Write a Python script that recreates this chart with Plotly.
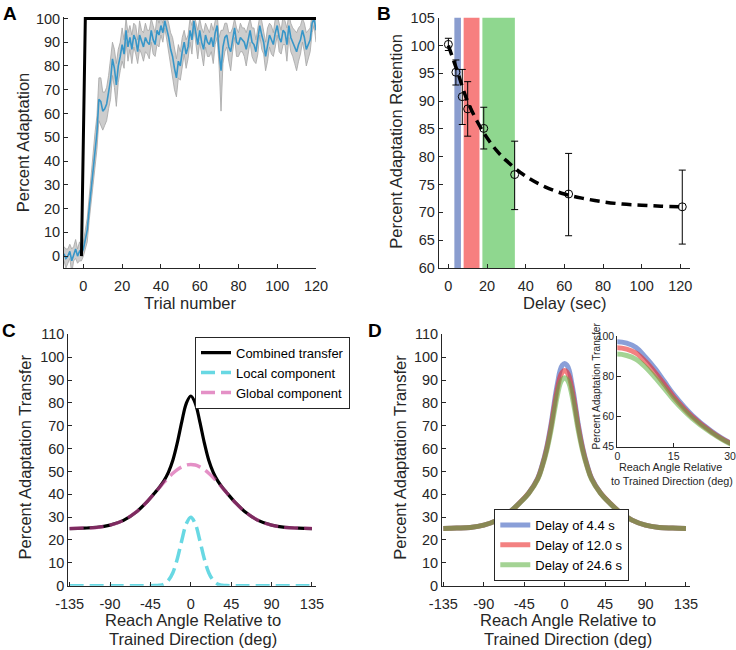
import plotly.graph_objects as go

FONT = "Liberation Sans, Arial, sans-serif"
TXT = "#262626"

# ---------------- Panel A data ----------------
trial = list(range(-10, 121))
adapt_mean = [1, -1, 0, 2, -2, 1, 3, 0, 2, 1,
              3,
              7, 11, 20, 29, 38, 44, 52, 66, 65, 61, 62, 64, 69, 74, 83, 79, 72, 80, 84, 89,
              85, 95, 88, 92, 87, 93, 91, 86, 93, 90, 88, 92, 90, 89, 95, 91, 89, 95, 93, 97,
              94, 99, 96, 92, 87, 84, 79, 75, 82, 80, 86, 90, 85, 88, 95, 91, 99, 93, 89, 95,
              90, 87, 93, 90, 89, 92, 88, 94, 97, 86, 78, 88, 92, 93, 88, 86, 91, 96, 90, 89,
              92, 91, 90, 87, 91, 95, 90, 89, 86, 91, 97, 93, 90, 84, 89, 93, 91, 89, 94, 97,
              92, 90, 95, 94, 89, 97, 92, 90, 88, 86, 89, 91, 95, 92, 87, 89, 91, 98, 100, 95]
adapt_se = [3, 4, 3, 3, 5, 3, 4, 3, 4, 3,
            3,
            4, 5, 5, 6, 7, 8, 7, 9, 10, 8, 7, 7, 7, 8, 7, 8, 9, 7, 6, 7,
            6, 5, 6, 5, 6, 5, 6, 5, 6, 5, 6, 6, 5, 6, 5, 6, 5, 6, 5, 4,
            4, 3, 5, 6, 7, 8, 9, 8, 7, 6, 6, 5, 6, 5, 5, 6, 3, 5, 6, 5,
            6, 7, 5, 6, 5, 6, 7, 5, 5, 6, 17, 7, 6, 5, 6, 8, 5, 4, 6, 5,
            6, 5, 6, 7, 6, 5, 6, 7, 5, 6, 4, 6, 5, 6, 7, 5, 6, 5, 6, 4,
            6, 5, 6, 5, 7, 5, 6, 6, 7, 8, 7, 6, 5, 6, 7, 6, 5, 4, 3, 5]
pert_trial = [-1, 1, 120]
pert_level = [0, 100, 100]

# ---------------- Panel B data ----------------
delay = [0, 3.9, 7.2, 10.0, 18.3, 34.3, 62.2, 121.0]
retention = [100.2, 95.2, 90.8, 88.6, 85.1, 76.8, 73.3, 71.0]
ret_upper = [101.3, 97.4, 95.7, 93.5, 88.9, 82.8, 80.6, 77.6]
ret_lower = [99.1, 92.9, 85.8, 83.7, 81.4, 70.5, 65.8, 64.3]
fit_delay = [0, 2.5, 5, 7.5, 10, 15, 20, 25, 30, 40, 50, 60, 70, 80, 90, 100, 110, 120]
fit_ret = [100, 97.5, 95.0, 92.3, 89.9, 86.3, 83.4, 81.1, 79.3, 76.5, 74.6, 73.3, 72.5, 71.9, 71.5, 71.3, 71.1, 71.0]
band_start = [3.1, 7.9, 17.6]
band_end = [6.5, 16.1, 34.4]
band_colors = ["#8a9dcf", "#f77f7f", "#8fd78f"]

# ---------------- Panel C data ----------------
angle_c = [-135, -120, -105, -90, -75, -60, -50, -40, -35, -30, -25, -20, -15, -10, -5, 0,
           5, 10, 15, 20, 25, 30, 35, 40, 50, 60, 75, 90, 105, 120, 135]
combined = [25.0, 25.2, 25.5, 26.5, 28.6, 32.5, 36.2, 40.7, 43.1, 45.9, 49.6, 54.9, 62.6, 71.8, 79.8, 83.0,
            79.8, 71.8, 62.6, 54.9, 49.6, 45.9, 43.1, 40.7, 36.2, 32.5, 28.6, 26.5, 25.5, 25.2, 25.0]
local_c = [0, 0, 0, 0, 0, 0, 0, 0.04, 0.2, 0.7, 2.3, 5.7, 11.8, 19.9, 27.1, 30.0,
           27.1, 19.9, 11.8, 5.7, 2.3, 0.7, 0.2, 0.04, 0, 0, 0, 0, 0, 0, 0]
global_c = [25.0, 25.2, 25.5, 26.5, 28.6, 32.5, 36.2, 40.6, 42.9, 45.2, 47.3, 49.2, 50.8, 52.0, 52.8, 53.0,
            52.8, 52.0, 50.8, 49.2, 47.3, 45.2, 42.9, 40.6, 36.2, 32.5, 28.6, 26.5, 25.5, 25.2, 25.0]

# ---------------- Panel D data ----------------
angle_d = [-135, -120, -105, -90, -75, -60, -50, -40, -30, -25, -20, -15, -12.5, -10, -7.5, -5, -2.5, 0,
           2.5, 5, 7.5, 10, 12.5, 15, 20, 25, 30, 40, 50, 60, 75, 90, 105, 120, 135]
delay_blue = [25.0, 25.2, 25.5, 26.5, 28.7, 32.6, 36.3, 40.6, 47.0, 52.8, 60.5, 71.0, 77.5, 84.0, 89.5, 94.3, 96.5, 97.2,
              96.5, 94.3, 89.5, 84.0, 77.5, 71.0, 60.5, 52.8, 47.0, 40.6, 36.3, 32.6, 28.7, 26.5, 25.5, 25.2, 25.0]
delay_red = [25.0, 25.2, 25.5, 26.5, 28.7, 32.6, 36.3, 40.5, 46.8, 52.4, 59.8, 69.8, 76.0, 82.0, 87.3, 91.5, 93.5, 94.2,
             93.5, 91.5, 87.3, 82.0, 76.0, 69.8, 59.8, 52.4, 46.8, 40.5, 36.3, 32.6, 28.7, 26.5, 25.5, 25.2, 25.0]
delay_green = [25.0, 25.2, 25.5, 26.5, 28.7, 32.6, 36.2, 40.4, 46.5, 52.0, 59.0, 68.3, 74.0, 79.5, 84.5, 88.4, 90.3, 91.0,
               90.3, 88.4, 84.5, 79.5, 74.0, 68.3, 59.0, 52.0, 46.5, 40.4, 36.2, 32.6, 28.7, 26.5, 25.5, 25.2, 25.0]
delay_names = ["Delay of 4.4 s", "Delay of 12.0 s", "Delay of 24.6 s"]
delay_line_colors = ["rgba(60,95,190,0.6)", "rgba(235,45,45,0.6)", "rgba(90,175,60,0.55)"]

# ---------------- build figure ----------------
fig = go.Figure()

upper_a = [m + s for m, s in zip(adapt_mean, adapt_se)]
lower_a = [m - s for m, s in zip(adapt_mean, adapt_se)]
fig.add_trace(go.Scatter(x=trial, y=lower_a, mode="lines", line=dict(color="rgb(165,165,165)", width=0.8),
                         showlegend=False, xaxis="x", yaxis="y", hoverinfo="skip"))
fig.add_trace(go.Scatter(x=trial, y=upper_a, mode="lines", line=dict(color="rgb(165,165,165)", width=0.8),
                         fill="tonexty", fillcolor="rgba(200,200,200,0.9)",
                         showlegend=False, xaxis="x", yaxis="y", hoverinfo="skip"))
fig.add_trace(go.Scatter(x=trial, y=adapt_mean, mode="lines", line=dict(color="rgb(55,150,200)", width=1.6),
                         showlegend=False, xaxis="x", yaxis="y"))
fig.add_trace(go.Scatter(x=pert_trial, y=pert_level, mode="lines", line=dict(color="black", width=3),
                         showlegend=False, xaxis="x", yaxis="y"))

# Panel B
shapes = []
for s, e, c in zip(band_start, band_end, band_colors):
    shapes.append(dict(type="rect", xref="x2", yref="y2 domain", x0=s, x1=e, y0=0, y1=1,
                       fillcolor=c, line=dict(width=0), layer="below"))
fig.add_trace(go.Scatter(x=fit_delay, y=fit_ret, mode="lines", line=dict(color="black", width=3.5, dash="10px,6px", shape="spline"),
                         showlegend=False, xaxis="x2", yaxis="y2"))
fig.add_trace(go.Scatter(x=delay, y=retention, mode="markers",
                         marker=dict(symbol="circle-open", size=8, color="black", line=dict(width=1)),
                         error_y=dict(type="data", symmetric=False,
                                      array=[u - m for u, m in zip(ret_upper, retention)],
                                      arrayminus=[m - l for m, l in zip(retention, ret_lower)],
                                      color="black", thickness=1, width=3.5),
                         showlegend=False, xaxis="x2", yaxis="y2"))

# Panel C
fig.add_trace(go.Scatter(x=angle_c, y=combined, mode="lines", name="Combined transfer",
                         line=dict(color="black", width=3.2, shape="spline"), xaxis="x3", yaxis="y3", legend="legend"))
fig.add_trace(go.Scatter(x=angle_c, y=local_c, mode="lines", name="Local component",
                         line=dict(color="rgba(40,200,215,0.7)", width=3.5, dash="14px,6px", shape="spline"),
                         xaxis="x3", yaxis="y3", legend="legend"))
fig.add_trace(go.Scatter(x=angle_c, y=global_c, mode="lines", name="Global component",
                         line=dict(color="rgba(210,70,160,0.6)", width=3.5, dash="14px,6px", shape="spline"),
                         xaxis="x3", yaxis="y3", legend="legend"))

# Panel D + inset
for ys, nm, col in zip([delay_blue, delay_red, delay_green], delay_names, delay_line_colors):
    fig.add_trace(go.Scatter(x=angle_d, y=ys, mode="lines", name=nm,
                             line=dict(color=col, width=5, shape="spline"), xaxis="x4", yaxis="y4", legend="legend2"))
for ys, col in zip([delay_blue, delay_red, delay_green], delay_line_colors):
    fig.add_trace(go.Scatter(x=angle_d, y=ys, mode="lines", showlegend=False,
                             line=dict(color=col, width=5, shape="spline"), xaxis="x5", yaxis="y5"))


def axis(domain, rng, tickvals, anchor, fs=14.5, ticktext=None, standoff=None):
    d = dict(domain=domain, range=rng, tickvals=tickvals, anchor=anchor, showline=True, linecolor=TXT,
             linewidth=1, ticks="inside", ticklen=4, tickcolor=TXT, tickwidth=1, showgrid=False,
             zeroline=False, tickfont=dict(family=FONT, size=fs, color=TXT), mirror=False, fixedrange=True,
             automargin=False)
    if ticktext is not None:
        d["ticktext"] = ticktext
    if standoff is not None:
        d["ticklabelstandoff"] = standoff
    return d


trial_ticks = [0, 20, 40, 60, 80, 100, 120]
adapt_ticks = [0, 10, 20, 30, 40, 50, 60, 70, 80, 90, 100]
delay_ticks = [0, 20, 40, 60, 80, 100, 120]
ret_ticks = [60, 65, 70, 75, 80, 85, 90, 95, 100, 105]
angle_ticks = [-135, -90, -45, 0, 45, 90, 135]
transfer_ticks = [0, 10, 20, 30, 40, 50, 60, 70, 80, 90, 100, 110]
inset_xticks = [0, 15, 30]
inset_yticks = [45, 60, 80, 100]

yA = [1 - 268 / 650, 1 - 17 / 650]
yC = [1 - 585.7 / 650, 1 - 334.3 / 650]

fig.update_layout(
    width=736, height=650, margin=dict(l=0, r=0, t=0, b=0, autoexpand=False),
    paper_bgcolor="white", plot_bgcolor="rgba(0,0,0,0)",
    font=dict(family=FONT, color=TXT),
    xaxis=axis([64 / 736, 316 / 736], [-10, 120], trial_ticks, "y", standoff=5),
    yaxis=axis(yA, [-5, 100.6], adapt_ticks, "x"),
    xaxis2=axis([438.7 / 736, 690 / 736], [-5, 125], delay_ticks, "y2", standoff=5),
    yaxis2=axis([1 - 268 / 650, 1 - 17.7 / 650], [60, 105], ret_ticks, "x2"),
    xaxis3=axis([68.3 / 736, 316 / 736], [-136.5, 139.5], angle_ticks, "y3",
                ticktext=[str(v) for v in angle_ticks], standoff=5),
    yaxis3=axis(yC, [0, 110], transfer_ticks, "x3"),
    xaxis4=axis([442 / 736, 690 / 736], [-136.5, 139.5], angle_ticks, "y4",
                ticktext=[str(v) for v in angle_ticks], standoff=5),
    yaxis4=axis(yC, [0, 110], transfer_ticks, "x4"),
    xaxis5=axis([617.3 / 736, 730 / 736], [0, 30], inset_xticks, "y5", fs=10.5, standoff=0),
    yaxis5=axis([1 - 446.7 / 650, 1 - 336 / 650], [45, 100], inset_yticks, "x5", fs=10.5, standoff=0),
    shapes=shapes,
    legend=dict(x=195 / 736, y=1 - 336.7 / 650, xanchor="left", yanchor="top", bgcolor="white",
                bordercolor=TXT, borderwidth=1, font=dict(family=FONT, size=13, color="black"),
                tracegroupgap=0, traceorder="normal"),
    legend2=dict(x=494.3 / 736, y=1 - 581 / 650, xanchor="left", yanchor="bottom", bgcolor="white",
                 bordercolor=TXT, borderwidth=1, font=dict(family=FONT, size=13, color="black"),
                 tracegroupgap=0, traceorder="normal"),
)

ann = []


def label(text, px, py, size=16.5, angle=0, bold=False, color=TXT):
    t = f"<b>{text}</b>" if bold else text
    ann.append(dict(text=t, x=px / 736, y=1 - py / 650, xref="paper", yref="paper", showarrow=False,
                    xanchor="center", yanchor="middle", textangle=angle,
                    font=dict(family=FONT, size=size, color=color)))


label("A", 9.5, 13, size=19, bold=True, color="black")
label("B", 384.5, 13, size=19, bold=True, color="black")
label("C", 8.5, 330, size=19, bold=True, color="black")
label("D", 374.5, 330, size=19, bold=True, color="black")

label("Trial number", 190, 302.7)
label("Percent Adaptation", 22.7, 142.5, angle=-90)
label("Delay (sec)", 564, 302.7)
label("Percent Adaptation Retention", 396, 140.8, angle=-90)
label("Reach Angle Relative to", 193, 620)
label("Trained Direction (deg)", 193, 639.3)
label("Percent Adaptation Transfer", 24, 457.5, angle=-90)
label("Reach Angle Relative to", 567.7, 620)
label("Trained Direction (deg)", 567.7, 639.3)
label("Percent Adaptation Transfer", 399.3, 457.5, angle=-90)
label("Reach Angle Relative", 670, 466.7, size=10.8)
label("to Trained Direction (deg)", 672, 481.3, size=10.8)
label("Percent Adaptation Transfer", 596.5, 386, size=10.2, angle=-90)

fig.update_layout(annotations=ann)
fig.write_html("out.html", config={"displayModeBar": False},
               post_script="document.body.style.margin='0';document.body.style.padding='0';")
